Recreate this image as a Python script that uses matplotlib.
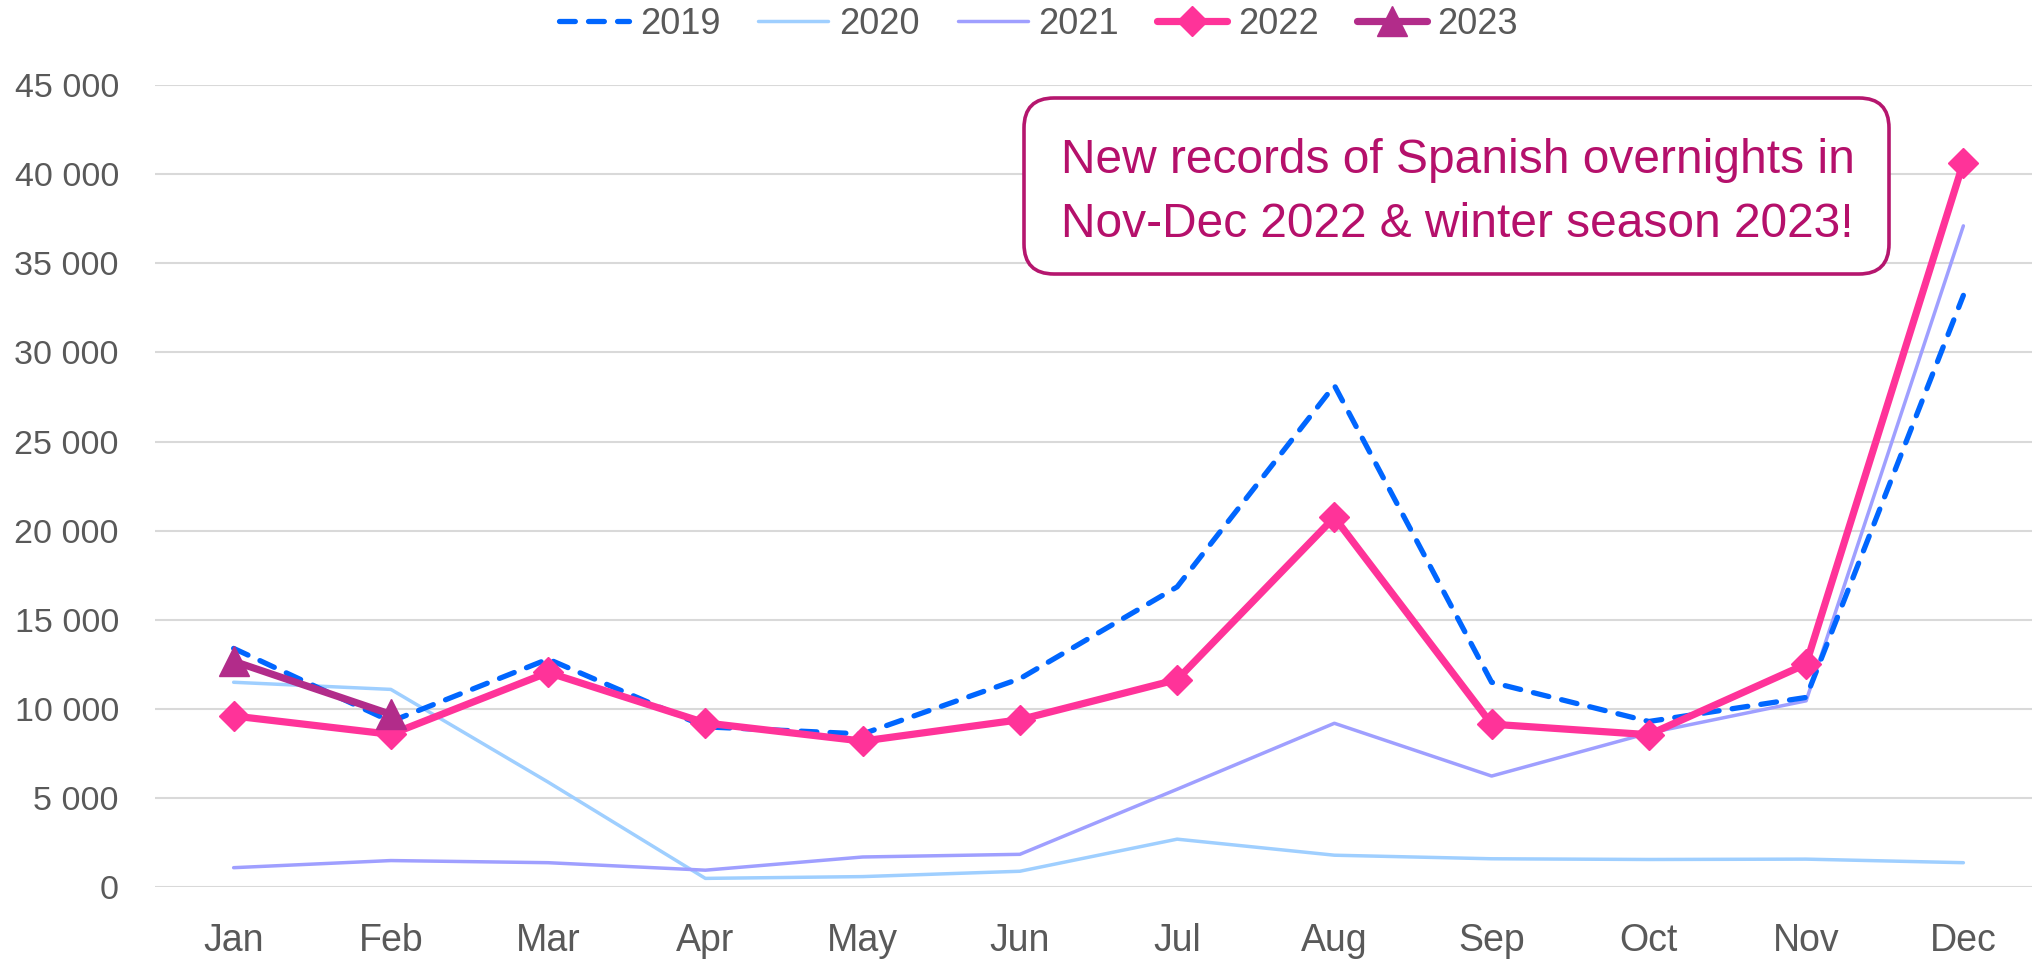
import matplotlib
matplotlib.use("Agg")
import matplotlib.pyplot as plt
from matplotlib.patches import FancyBboxPatch
from matplotlib.ticker import FuncFormatter

months = ["Jan", "Feb", "Mar", "Apr", "May", "Jun", "Jul", "Aug", "Sep", "Oct", "Nov", "Dec"]
y2019 = [13400, 9300, 12800, 9000, 8600, 11700, 16850, 28150, 11500, 9300, 10650, 33200]
y2020 = [11500, 11100, 5900, 500, 600, 900, 2700, 1800, 1600, 1560, 1580, 1380]
y2021 = [1100, 1500, 1380, 960, 1700, 1850, 5500, 9200, 6240, 8650, 10460, 37100]
y2022 = [9610, 8580, 12050, 9220, 8200, 9400, 11650, 20750, 9150, 8560, 12520, 40650]
y2023 = [12680, 9700]
yticks = list(range(0, 45001, 5000))
note_lines = ["New records of Spanish overnights in", "Nov-Dec 2022 & winter season 2023!"]

FONT = "Liberation Sans"
GRAY = "#595959"
plt.rcParams["font.family"] = [FONT, "DejaVu Sans"]

W, H = 2032, 963
fig = plt.figure(figsize=(W / 100, H / 100), dpi=100)
left, right = 155 / W, 2042 / W
bottom, top = 1 - 887.3 / H, 1 - 85 / H
ax = fig.add_axes([left, bottom, right - left, top - bottom])

x = list(range(len(months)))
l19, = ax.plot(x, y2019, color="#0066FF", lw=3.8, ls=(0, (3.0, 2.5)),
               dash_capstyle="round", solid_capstyle="round", zorder=3, label="2019")
l20, = ax.plot(x, y2020, color="#9FCFFF", lw=2.5, zorder=2, label="2020",
               solid_capstyle="round")
l21, = ax.plot(x, y2021, color="#9F9FFF", lw=2.5, zorder=2.5, label="2021",
               solid_capstyle="round")
l22, = ax.plot(x, y2022, color="#FF3399", lw=5.2, marker="D", ms=15,
               zorder=4, label="2022", solid_capstyle="round")
l23, = ax.plot(x[:len(y2023)], y2023, color="#B22C8A", lw=5.2, marker="^", ms=21,
               zorder=5, label="2023", solid_capstyle="round")

ax.set_xlim(-0.5, 11.5)
ax.set_ylim(0, 45000)
ax.set_xticks(x)
ax.set_xticklabels(months)
ax.set_yticks(yticks)
ax.yaxis.set_major_formatter(FuncFormatter(lambda v, p: f"{int(v):,}".replace(",", " ")))
ax.grid(axis="y", color="#D9D9D9", lw=1.5, zorder=0)
ax.set_axisbelow(True)
for s in ax.spines.values():
    s.set_visible(False)
ax.tick_params(axis="x", length=0, pad=26, labelsize=27, labelcolor=GRAY)
ax.tick_params(axis="y", length=0, pad=26, labelsize=24.5, labelcolor=GRAY)

leg = fig.legend(handles=[l19, l20, l21, l22, l23], loc="center",
                 bbox_to_anchor=(1038.5 / W, 1 - 24.5 / H), ncol=5, frameon=False,
                 fontsize=26, handlelength=1.94, handletextpad=0.3,
                 columnspacing=1.05, borderaxespad=0, borderpad=0)
for t in leg.get_texts():
    t.set_color(GRAY)

# annotation box (inch coordinates for uniform rounding)
bx0, bx1 = 1024 / 100, 1889 / 100
by0, by1 = (H - 274) / 100, (H - 98) / 100
box = FancyBboxPatch((bx0, by0), bx1 - bx0, by1 - by0,
                     boxstyle="round,pad=0,rounding_size=0.3",
                     transform=fig.dpi_scale_trans, facecolor="white",
                     edgecolor="#B5166E", lw=2.6, zorder=10)
fig.add_artist(box)
cx = (1059 + 1856) / 2 / W
for txt, base in zip(note_lines, [172.7, 236.7]):
    fig.text(cx, 1 - base / H, txt, ha="center", va="baseline", fontsize=34.5,
             color="#B5106B", zorder=11)

fig.savefig("out.png", dpi=100)
